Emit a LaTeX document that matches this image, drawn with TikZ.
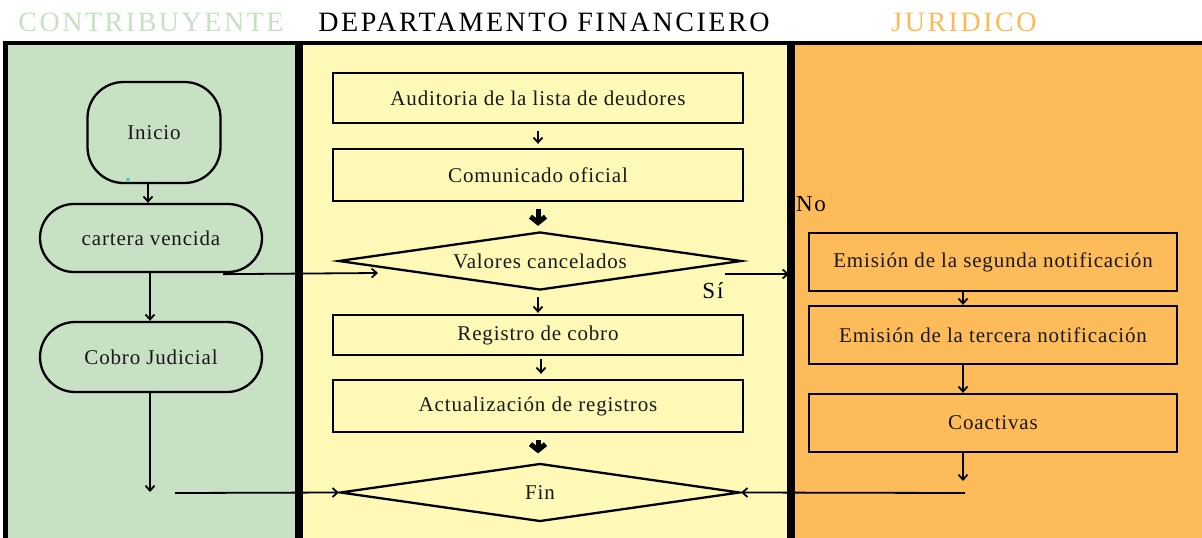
\documentclass[tikz,border=0pt]{standalone}
\usepackage{fontspec}
\setmainfont{Liberation Serif}[LetterSpace=4]
\newfontfamily\titlefont{Liberation Serif}[LetterSpace=9]
\newfontfamily\plainfont{Liberation Serif}[LetterSpace=8]
\usetikzlibrary{shapes.geometric,arrows.meta}
\definecolor{lgreen}{HTML}{C8E0C4}
\definecolor{lyellow}{HTML}{FFF9B8}
\definecolor{lorange}{HTML}{FDBB59}
\definecolor{tgreen}{HTML}{C6E0C2}
\definecolor{torange}{HTML}{FDBA55}
\definecolor{dotcyan}{HTML}{22C8D8}
\begin{document}
\begin{tikzpicture}[x=1pt,y=-1pt,
  txt/.style={font=\fontsize{21}{24}\selectfont, text=black!90},
  box/.style={draw, line width=2.3pt, rectangle, minimum width=410, minimum height=50, inner sep=0, txt},
  obox/.style={box, minimum width=368, minimum height=58},
  pill/.style={draw, line width=2.3pt, rectangle, inner sep=0, txt},
  dia/.style={draw, line width=2.3pt, diamond, aspect=7, inner sep=0, txt},
  arr/.style={line width=1.8pt, -{Straight Barb[length=5pt,width=9pt]}},
  boldarr/.style={line width=5pt, -{Straight Barb[length=6pt,width=15pt]}},
  ttl/.style={font=\titlefont\fontsize{28}{30}\selectfont, anchor=base},
  lbl/.style={font=\plainfont\fontsize{23}{25}\selectfont}
]
\useasboundingbox (0,0) rectangle (1202,538);
% lanes
\fill[lgreen] (5,44) rectangle (299,538);
\fill[lyellow] (299,44) rectangle (791,538);
\fill[lorange] (791,44) rectangle (1202,538);
\draw[line width=4pt] (3,43) -- (1202,43);
\draw[line width=5pt] (5.5,41) -- (5.5,538);
\draw[line width=8pt] (299,41) -- (299,538);
\draw[line width=8pt] (791,41) -- (791,538);
% titles
\node[ttl, text=tgreen] (t1) at (151,31) {CONTRIBUYENTE};
\node[ttl, text=black] (t2) at (544,31) {DEPARTAMENTO FINANCIERO};
\node[ttl, text=torange] (t3) at (964,31) {JURIDICO};
% contribuyente lane
\node[pill, minimum width=133, minimum height=101, rounded corners=36] (inicio) at (154,132.5) {Inicio};
\fill[dotcyan] (128,179.5) circle (1.8);
\node[pill, minimum width=222, minimum height=68, rounded corners=34] (cartera) at (151,238) {cartera vencida};
\node[pill, minimum width=222, minimum height=70, rounded corners=35] (cobro) at (151,357) {Cobro Judicial};
% financiero lane
\node[box] (aud) at (538,98) {Auditoria de la lista de deudores};
\node[box, minimum height=52] (com) at (538,175) {Comunicado oficial};
\node[dia, minimum width=403, minimum height=58] (val) at (540,261) {Valores cancelados};
\node[box, minimum height=40] (reg) at (538,335) {Registro de cobro};
\node[box, minimum height=52] (act) at (538,406) {Actualización de registros};
\node[dia, minimum width=400, minimum height=58] (fin) at (540,492.5) {Fin};
% juridico lane
\node[obox] (seg) at (993,262) {Emisión de la segunda notificación};
\node[obox] (ter) at (993,335) {Emisión de la tercera notificación};
\node[obox] (coa) at (993,423) {Coactivas};
\node[lbl] (no) at (811,204) {No};
\node[lbl] (si) at (713,291) {Sí};
% helper coordinates
\coordinate (xa) at (148,0);
\coordinate (xb) at (150,0);
\coordinate (xo) at (963,0);
\coordinate (xr) at (541,0);
\coordinate (cjend) at (150,492);
\coordinate (cjstart) at (175,493);
\coordinate (vin) at (378,273);
\coordinate (vout) at (725,274);
\coordinate (vend) at (789,274);
\coordinate (coend) at (963,481);
\coordinate (jstart) at (965,493);
% connectors
\draw[arr] (inicio.south -| xa) -- (cartera.north -| xa);
\draw[arr] (cartera.south -| xb) -- (cobro.north -| xb);
\draw[arr] (cobro.south -| xb) -- (cjend);
\draw[arr] (cjstart) -- (fin.west);
\draw[arr] ([xshift=-40,yshift=-1]cartera.south east) -- (vin);
\draw[arr] (vout) -- (vend);
\draw[arr, shorten <=7pt, shorten >=4pt] (aud.south) -- (com.north);
\draw[boldarr, shorten <=7pt, shorten >=5pt] (com.south) -- (val.north -| com.south);
\draw[arr, shorten <=6pt, shorten >=1pt] (val.south -| aud.south) -- (reg.north);
\draw[arr, shorten <=3pt, shorten >=5pt] (reg.south -| xr) -- (act.north -| xr);
\draw[boldarr, shorten <=7pt, shorten >=9pt] (act.south) -- (fin.north -| act.south);
\draw[arr] (seg.south -| xo) -- (ter.north -| xo);
\draw[arr] (ter.south -| xo) -- (coa.north -| xo);
\draw[arr] (coa.south -| xo) -- (coend);
\draw[arr] (jstart) -- (fin.east);
\end{tikzpicture}
\end{document}
